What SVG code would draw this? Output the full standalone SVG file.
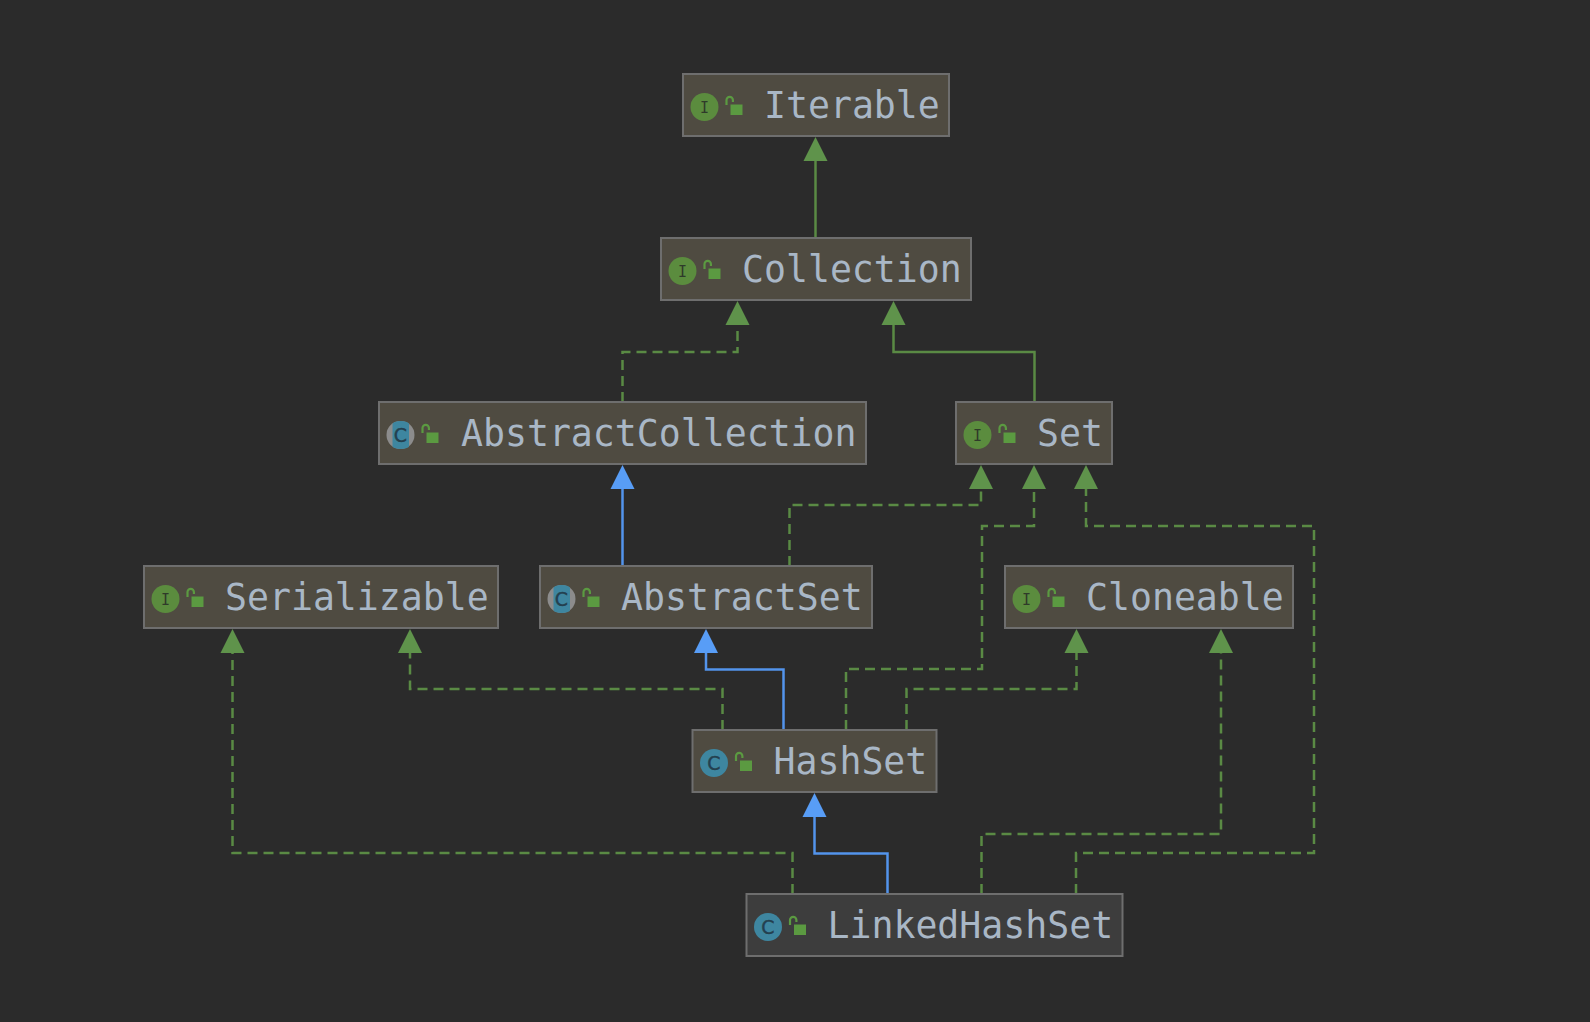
<svg xmlns="http://www.w3.org/2000/svg" width="1590" height="1022" viewBox="0 0 1590 1022">
<style>
.box{fill:#4f4b41;stroke:#6e6e6e;stroke-width:2}
.box2{fill:#3d3d3d;stroke:#6e6e6e;stroke-width:2}
.t{font-family:"DejaVu Sans Mono",monospace;font-size:36.5px;fill:#a9b7c6}
.ii{font-family:"DejaVu Sans Mono",monospace;font-size:15px;fill:#2f3a2a;text-anchor:middle}
.ic{font-family:"DejaVu Sans",sans-serif;font-size:19px;fill:#24404f;stroke:#24404f;stroke-width:.4;text-anchor:middle}
.e{fill:none;stroke-width:2.500}
.g{stroke:#5a8a44}
.b{stroke:#5394ec}
.d{stroke-dasharray:10 6}
</style>
<defs>
<g id="lock"><rect x="47.500" y="30.500" width="12" height="10.500" fill="#5b9a41"/><path d="M43.500 31v-5a3.200 3.200 0 0 1 6.400 0v2" fill="none" stroke="#5b9a41" stroke-width="2.200"/></g>
<g id="iI"><circle cx="21.500" cy="33" r="14" fill="#5b8c3e"/><use href="#lock"/></g>
<g id="iC"><circle cx="21.500" cy="33" r="14" fill="#3e86a0"/><use href="#lock"/></g>
<g id="iA"><circle cx="21.500" cy="33" r="14" fill="#8c8c8c"/><rect x="13.500" y="19" width="16.500" height="28" rx="8" ry="3" fill="#3e86a0"/><use href="#lock"/></g>
</defs>
<rect width="1590" height="1022" fill="#2b2b2b"/>
<g id="connectors">
<path class="e g" d="M815.500 238V160"/>
<path class="e g d" d="M622.500 402V352H737.500V325"/>
<path class="e g" d="M1034.500 402V352H893.500V325"/>
<path class="e b" d="M622.500 566V489"/>
<path class="e g d" d="M789.500 566V505H981V489"/>
<path class="e g d" d="M846 730V669H982V526H1034V489"/>
<path class="e g d" d="M1076 894V853H1314V526H1086V489"/>
<path class="e g d" d="M906.500 730V689H1076.500V653"/>
<path class="e g d" d="M981.500 894V834H1221V653"/>
<path class="e g d" d="M722.500 730V689H410V653"/>
<path class="e g d" d="M792.500 894V853H232.500V653"/>
<path class="e b" d="M783.500 730V669.500H706V653"/>
<path class="e b" d="M887.500 894V853.500H814.500V817"/>
<g fill="#5f934b">
<path d="M815.500 137l12 24h-24Z"/>
<path d="M737.500 301l12 24h-24Z"/>
<path d="M893.500 301l12 24h-24Z"/>
<path d="M981 465l12 24h-24Z"/>
<path d="M1034 465l12 24h-24Z"/>
<path d="M1086 465l12 24h-24Z"/>
<path d="M1076.500 629l12 24h-24Z"/>
<path d="M1221 629l12 24h-24Z"/>
<path d="M410 629l12 24h-24Z"/>
<path d="M232.500 629l12 24h-24Z"/>
</g>
<g fill="#589df6">
<path d="M622.500 465l12 24h-24Z"/>
<path d="M706 629l12 24h-24Z"/>
<path d="M814.500 793l12 24h-24Z"/>
</g>
</g>
<g id="Iterable" transform="translate(683 74)"><rect class="box" width="266" height="62"/><use href="#iI"/><text class="ii" x="21.500" y="38.500">I</text><text class="t" x="81" y="43.500">Iterable</text></g>
<g id="Collection" transform="translate(661 238)"><rect class="box" width="310" height="62"/><use href="#iI"/><text class="ii" x="21.500" y="38.500">I</text><text class="t" x="81" y="43.500">Collection</text></g>
<g id="AbstractCollection" transform="translate(379 402)"><rect class="box" width="487" height="62"/><use href="#iA"/><text class="ic" x="21.500" y="39.500">C</text><text class="t" x="82" y="43.500">AbstractCollection</text></g>
<g id="Set" transform="translate(956 402)"><rect class="box" width="156" height="62"/><use href="#iI"/><text class="ii" x="21.500" y="38.500">I</text><text class="t" x="81" y="43.500">Set</text></g>
<g id="Serializable" transform="translate(144 566)"><rect class="box" width="354" height="62"/><use href="#iI"/><text class="ii" x="21.500" y="38.500">I</text><text class="t" x="81" y="43.500">Serializable</text></g>
<g id="AbstractSet" transform="translate(540 566)"><rect class="box" width="332" height="62"/><use href="#iA"/><text class="ic" x="21.500" y="39.500">C</text><text class="t" x="81" y="43.500">AbstractSet</text></g>
<g id="Cloneable" transform="translate(1005 566)"><rect class="box" width="288" height="62"/><use href="#iI"/><text class="ii" x="21.500" y="38.500">I</text><text class="t" x="81" y="43.500">Cloneable</text></g>
<g id="HashSet" transform="translate(692.500 730)"><rect class="box" width="244" height="62"/><use href="#iC"/><text class="ic" x="21.500" y="39.500">C</text><text class="t" x="81" y="43.500">HashSet</text></g>
<g id="LinkedHashSet" transform="translate(746.500 894)"><rect class="box2" width="376" height="62"/><use href="#iC"/><text class="ic" x="21.500" y="39.500">C</text><text class="t" x="81" y="43.500">LinkedHashSet</text></g>
</svg>
